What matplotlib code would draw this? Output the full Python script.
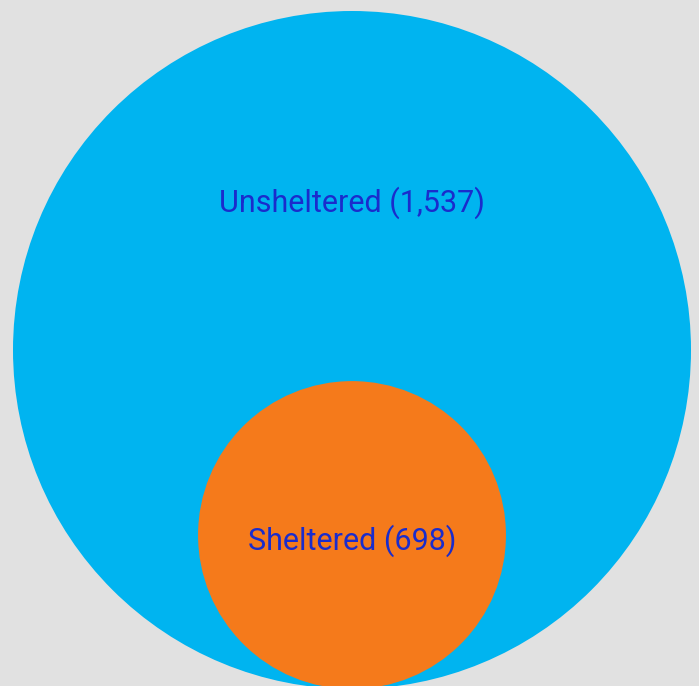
import matplotlib
matplotlib.use("Agg")
import matplotlib.pyplot as plt
from matplotlib.patches import Circle

categories = ["Unsheltered", "Sheltered"]
values = [1537, 698]
colors = ["#00b4f0", "#f57a1b"]

W, H = 699, 686
fig = plt.figure(figsize=(W / 100, H / 100), dpi=100, facecolor="#e1e1e1")
ax = fig.add_axes([0, 0, 1, 1])
ax.set_facecolor("#e1e1e1")
ax.set_xlim(0, W)
ax.set_ylim(H, 0)
ax.set_aspect("equal")
ax.axis("off")

scale = 339 / max(values)  # pixels per unit of radius
cx, base = 352, 689
label_y = [203, 541]
for cat, v, c, ly in zip(categories, values, colors, label_y):
    r = v * scale
    ax.add_patch(Circle((cx, base - r), r, facecolor=c, edgecolor="none"))
    ax.text(cx, ly, f"{cat} ({v:,})", ha="center", va="center",
            fontsize=22, family="Roboto", color="#1a2ccc")

fig.savefig("out.png", dpi=100, facecolor=fig.get_facecolor())
